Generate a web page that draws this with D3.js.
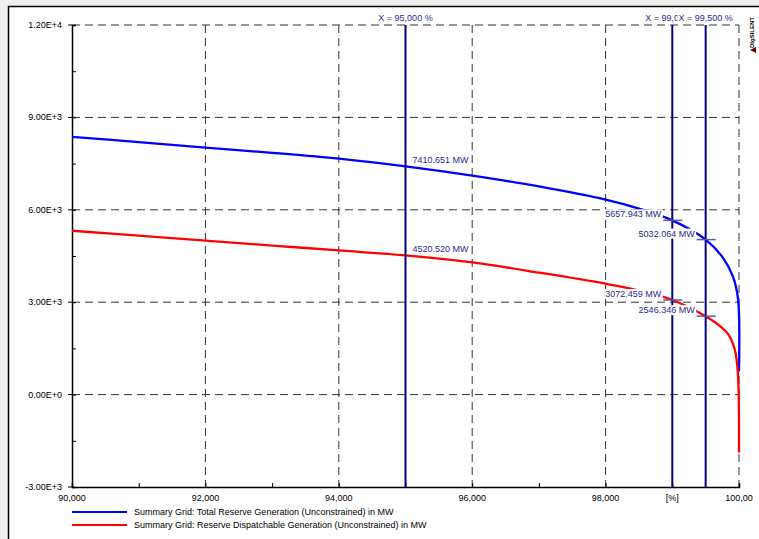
<!DOCTYPE html>
<html><head><meta charset="utf-8">
<script src="https://cdn.jsdelivr.net/npm/d3@7"></script>
<style>body{margin:0;background:#f0f0f0;}svg{display:block;font-family:"Liberation Sans",Arial,sans-serif;}</style>
</head><body>
<svg id="c" width="759" height="539"></svg>
<script>
// ---- data ----
const xTotal       = [90, 91, 92, 93, 94, 95, 96, 97, 98, 98.5, 99, 99.5, 99.76, 99.91, 99.985, 100];
const totalReserve = [8370, 8200, 8020, 7850, 7660, 7410.651, 7110, 6760, 6330, 6040, 5657.943, 5032.064, 4440, 3830, 3110, 750];
const xDispatch    = [90, 91, 92, 93, 94, 95, 96, 97, 98, 98.5, 99, 99.5, 99.67, 99.835, 99.94, 99.985, 100];
const dispatchable = [5320, 5160, 5000, 4840, 4680, 4520.520, 4290, 3960, 3600, 3380, 3072.459, 2546.346, 2300, 1970, 1430, 620, -1880];
const markerX      = [95, 99, 99.5];
const markerLabels = ["X = 95,000 %", "X = 99,000 %", "X = 99,500 %"];
const xTickValues  = [90, 92, 94, 96, 98, 100];
const xTickLabels  = ["90,000", "92,000", "94,000", "96,000", "98,000", "100,00"];
const yTickValues  = [-3000, 0, 3000, 6000, 9000, 12000];
const yTickLabels  = ["-3.00E+3", "0.00E+0", "3.00E+3", "6.00E+3", "9.00E+3", "1.20E+4"];
const seriesNames  = ["Summary Grid: Total Reserve Generation (Unconstrained) in MW",
                      "Summary Grid: Reserve Dispatchable Generation (Unconstrained) in MW"];
const unitLabel = "[%]";

const svg = d3.select("#c");
const L = 72, R = 739, T = 25, B = 487;
const x = d3.scaleLinear().domain([90, 100]).range([L, R]);
const y = d3.scaleLinear().domain([-3000, 12000]).range([B, T]);

// frame
svg.append("rect").attr("x", 8.5).attr("y", 6.5).attr("width", 760).attr("height", 540)
  .attr("fill", "#fff").attr("stroke", "#000").attr("stroke-width", 1.5);

// grid
const g = svg.append("g");
xTickValues.slice(1).forEach(v => {
  g.append("line").attr("x1", x(v)).attr("x2", x(v)).attr("y1", T).attr("y2", B)
    .attr("stroke", "#333").attr("stroke-width", 1).attr("stroke-dasharray", "8,5");
});
yTickValues.slice(1).forEach(v => {
  g.append("line").attr("x1", L).attr("x2", R).attr("y1", y(v)).attr("y2", y(v))
    .attr("stroke", "#333").attr("stroke-width", 1).attr("stroke-dasharray", "8,5");
});

// axes
const xAxis = d3.axisBottom(x).tickValues(d3.range(90, 100.01, 1)).tickSize(-4).tickFormat("");
svg.append("g").attr("transform", `translate(0,${B})`).call(xAxis)
  .call(s => { s.select(".domain").attr("stroke", "#000").attr("stroke-width", 1.5); s.selectAll(".tick line").attr("stroke", "#000"); });
const yAxis = d3.axisLeft(y).tickValues(d3.range(-3000, 12001, 1500)).tickSize(-4).tickFormat("");
svg.append("g").attr("transform", `translate(${L},0)`).call(yAxis)
  .call(s => { s.select(".domain").attr("stroke", "#000").attr("stroke-width", 1.5); s.selectAll(".tick line").attr("stroke", "#000"); });
yTickValues.forEach(v => svg.append("line").attr("x1", L - 4).attr("x2", L).attr("y1", y(v)).attr("y2", y(v)).attr("stroke", "#000"));

// tick labels
yTickValues.forEach((v, i) => svg.append("text").attr("x", 62).attr("y", y(v) + 3).attr("text-anchor", "end")
  .attr("font-size", 9).text(yTickLabels[i]));
xTickValues.forEach((v, i) => svg.append("text").attr("x", x(v)).attr("y", 501).attr("text-anchor", "middle")
  .attr("font-size", 9).text(xTickLabels[i]));
svg.append("text").attr("x", x(99)).attr("y", 501).attr("text-anchor", "middle").attr("font-size", 9).text(unitLabel);

// curves
const line = d3.line().x(d => x(d[0])).y(d => y(d[1])).curve(d3.curveCatmullRom.alpha(0.5));
const colors = ["#0000ff", "#ff0000"];
const series = [[xTotal, totalReserve], [xDispatch, dispatchable]];
series.forEach(([xs, s], i) => {
  svg.append("path").datum(xs.map((v, j) => [v, s[j]])).attr("d", line)
    .attr("fill", "none").attr("stroke", colors[i]).attr("stroke-width", 2.3);
});

// marker vertical lines
markerX.forEach(v => svg.append("line").attr("x1", x(v)).attr("x2", x(v)).attr("y1", T).attr("y2", B)
  .attr("stroke", "#000080").attr("stroke-width", 2));

// value labels
const lblColor = "#2b2b8c";
function label(tx, ty, txt, anchor) {
  const t = svg.append("text").attr("x", tx).attr("y", ty).attr("text-anchor", anchor)
    .attr("font-size", 9).attr("fill", lblColor).text(txt);
  const bb = t.node().getBBox();
  svg.insert("rect", () => t.node()).attr("x", bb.x - 1).attr("y", bb.y).attr("width", bb.width + 2).attr("height", bb.height).attr("fill", "#fff");
}
function valueAt(xs, s, xv) { return s[xs.indexOf(xv)]; }
series.forEach(([xs, s]) => {
  const v = valueAt(xs, s, 95);
  label(x(95) + 7, y(v) - 3, d3.format(".3f")(v) + " MW", "start");
});
[99, 99.5].forEach(xv => {
  series.forEach(([xs, s]) => {
    const v = valueAt(xs, s, xv);
    label(x(xv) - 11, y(v) - 3, d3.format(".3f")(v) + " MW", "end");
    svg.append("line").attr("x1", x(xv) - 9).attr("x2", x(xv) + 10).attr("y1", y(v)).attr("y2", y(v))
      .attr("stroke", "#5a5aa8").attr("stroke-width", 1.5);
  });
});

// top marker labels
markerX.forEach((v, i) => label(x(v), 21, markerLabels[i], "middle"));

// legend
seriesNames.forEach((n, i) => {
  const ly = 512 + i * 13;
  svg.append("line").attr("x1", 72).attr("x2", 127).attr("y1", ly).attr("y2", ly).attr("stroke", colors[i]).attr("stroke-width", 2);
  svg.append("text").attr("x", 134).attr("y", ly + 3).attr("font-size", 9).text(n);
});

// DIgSILENT mark
svg.append("text").attr("transform", "translate(754,48) rotate(-90)").attr("font-size", 6).attr("font-weight", "bold").text("DIgSILENT");
svg.append("path").attr("d", "M750,50 L756,47 L756,53 Z").attr("fill", "#600");
</script>
</body></html>
